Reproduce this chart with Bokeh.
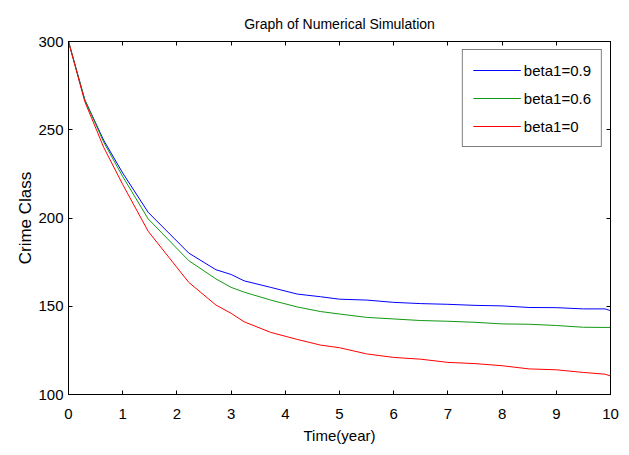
from bokeh.plotting import figure
from bokeh.models import LinearAxis, Range1d, FixedTicker, Legend, LegendItem
from bokeh.embed import file_html
from bokeh.resources import INLINE

# Data
t = [0, 0.3, 0.65, 1.0, 1.47, 2.22, 2.72, 3.0, 3.24, 3.73, 4.22, 4.65, 5.0, 5.5, 6.0,
     6.5, 7.0, 7.5, 8.0, 8.5, 9.0, 9.5, 9.9, 10]
beta_09 = [300, 267, 244, 225.5, 203.2, 180.1, 170.7, 168, 164.4, 160.7, 156.9, 155.4,
           154, 153.5, 152.2, 151.5, 151.1, 150.5, 150.2, 149.3, 149.2, 148.5, 148.5, 147.5]
beta_06 = [300, 267, 243, 223.5, 199.5, 175.8, 165.5, 160.7, 158, 153.5, 149.6, 147,
           145.6, 143.7, 142.8, 141.9, 141.5, 140.9, 140, 139.8, 139.1, 138.1, 138, 138]
beta_0 = [300, 266, 240, 219, 192.5, 163.5, 150.7, 146, 141.2, 135.2, 131.2, 128,
          126.5, 123, 121, 120, 118.2, 117.5, 116.3, 114.5, 114, 112.5, 111.5, 110.5]
labels = ["beta1=0.9", "beta1=0.6", "beta1=0"]
x_ticks = [0, 1, 2, 3, 4, 5, 6, 7, 8, 9, 10]
y_ticks = [100, 150, 200, 250, 300]

FONT = "Liberation Sans"

p = figure(width=621, height=452, output_backend="svg", toolbar_location=None,
           x_range=Range1d(0, 10), y_range=Range1d(100, 300),
           title="Graph of Numerical Simulation",
           min_border_left=68, min_border_right=11, min_border_top=41, min_border_bottom=58)
p.title.align = "center"
p.title.text_font = FONT
p.title.text_font_size = "14px"
p.title.text_font_style = "normal"
p.title.text_color = "black"
p.title.offset = 0
p.title.standoff = 19
p.grid.visible = False
p.outline_line_color = "black"
p.outline_line_width = 1

for ax in (p.xaxis[0], p.yaxis[0]):
    ax.major_tick_in = 4
    ax.major_tick_out = 0
    ax.minor_tick_in = 0
    ax.minor_tick_out = 0
    ax.major_label_text_font = FONT
    ax.major_label_text_font_size = "15px"
    ax.major_label_text_color = "black"
    ax.axis_label_text_font = FONT
    ax.axis_label_text_font_style = "normal"
    ax.axis_label_text_color = "black"
    ax.axis_line_color = "black"
    ax.major_tick_line_color = "black"

p.xaxis[0].ticker = FixedTicker(ticks=x_ticks)
p.yaxis[0].ticker = FixedTicker(ticks=y_ticks)
p.xaxis[0].axis_label = "Time(year)"
p.xaxis[0].axis_label_text_font_size = "15px"
p.xaxis[0].axis_label_standoff = 5
p.xaxis[0].major_label_standoff = 14
p.yaxis[0].axis_label = "Crime Class"
p.yaxis[0].axis_label_text_font_size = "17px"
p.yaxis[0].axis_label_standoff = 0
p.yaxis[0].major_label_standoff = 5

blank_x = {v: "" for v in x_ticks}
blank_y = {v: "" for v in y_ticks}
top = LinearAxis(ticker=FixedTicker(ticks=x_ticks), major_tick_in=4, major_tick_out=0,
                 minor_tick_in=0, minor_tick_out=0, major_label_overrides=blank_x,
                 major_label_standoff=0, axis_line_color="black")
right = LinearAxis(ticker=FixedTicker(ticks=y_ticks), major_tick_in=4, major_tick_out=0,
                   minor_tick_in=0, minor_tick_out=0, major_label_overrides=blank_y,
                   major_label_standoff=0, axis_line_color="black")
p.add_layout(top, "above")
p.add_layout(right, "right")

r1 = p.line(t, beta_09, line_color="#0000ff", line_width=1)
r2 = p.line(t, beta_06, line_color="#119911", line_width=1)
r3 = p.line(t, beta_0, line_color="#ff0000", line_width=1)

legend = Legend(items=[LegendItem(label=labels[0], renderers=[r1]),
                       LegendItem(label=labels[1], renderers=[r2]),
                       LegendItem(label=labels[2], renderers=[r3])],
                location="top_right")
legend.border_line_color = "black"
legend.border_line_width = 1
legend.background_fill_alpha = 1
legend.label_text_font = FONT
legend.label_text_font_size = "15px"
legend.label_text_color = "black"
legend.glyph_width = 48
legend.glyph_height = 20
legend.label_height = 20
legend.label_standoff = 3
legend.spacing = 8
legend.padding = 10
legend.margin = 8
p.add_layout(legend, "center")

open("out.html", "w").write(file_html(p, INLINE))
